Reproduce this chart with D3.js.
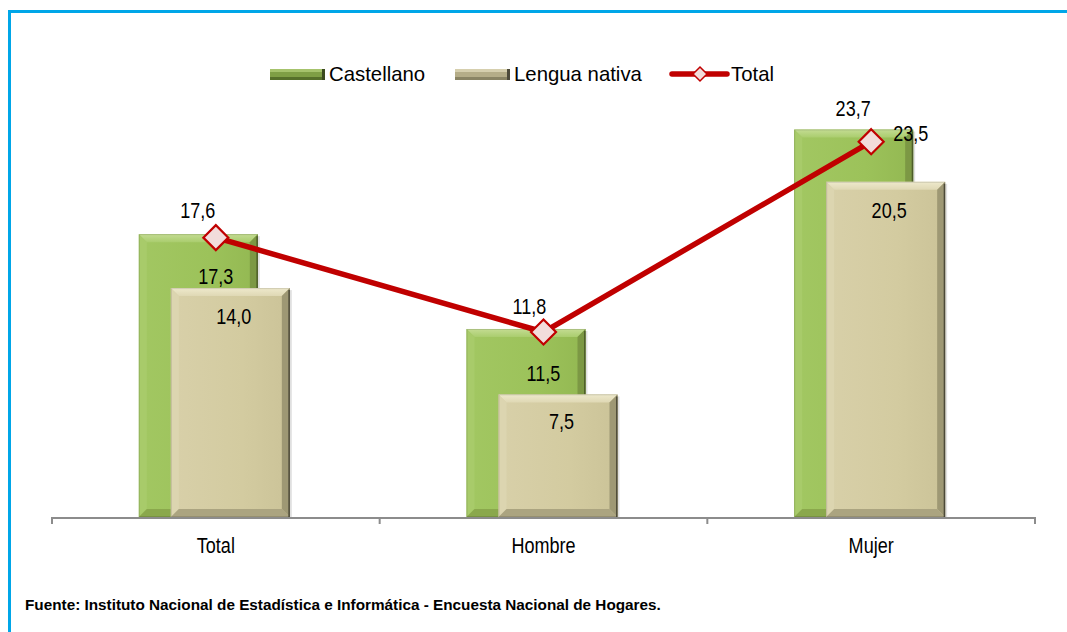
<!DOCTYPE html>
<html>
<head>
<meta charset="utf-8">
<script src="https://cdn.jsdelivr.net/npm/d3@7"></script>
<style>
  body { margin: 0; background: #fff; }
  svg text { font-family: "Liberation Sans", Arial, sans-serif; fill: #000; }
</style>
</head>
<body>
<div id="chart"></div>
<script>
// data
const categories = ["Total", "Hombre", "Mujer"];
const castellano = [17.3, 11.5, 23.7];
const lenguaNativa = [14.0, 7.5, 20.5];
const totalSerie = [17.6, 11.8, 23.5];
const seriesNames = ["Castellano", "Lengua nativa", "Total"];
const fuente = "Fuente: Instituto Nacional de Estadística e Informática - Encuesta Nacional de Hogares.";

// label placement (px offsets from the mark, set by hand)
const castLabelOff = [[0, 42], [0, 44], [-18, -21]];
const lengLabelOff = [[1, 28], [1, 27], [1, 28]];
const totLabelOff = [[-18, -27], [-14, -26], [22, -8]];

const width = 1067, height = 632;
const base = 517;
const narrow = 0.82; // the source font is a narrow face

const svg = d3.select("#chart").append("svg")
    .attr("width", width)
    .attr("height", height);

// frame (blue border, top and left)
svg.append("path")
    .attr("d", "M 9.5 632 L 9.5 11.5 L 1067 11.5")
    .attr("fill", "none")
    .attr("stroke", "#00A6E8")
    .attr("stroke-width", 3);

const x = d3.scaleBand().domain(categories).range([52, 1035]);
const y = d3.scaleLinear().domain([0, 30]).range([base, base - 16.35 * 30]);
const yLine = d3.scaleLinear().domain([0, 30]).range([524, 524 - 16.27 * 30]);

const barW = 119;
const cx = c => x(c) + x.bandwidth() / 2;

// gradients
const defs = svg.append("defs");
function grad(id, stops, vertical) {
    const g = defs.append("linearGradient").attr("id", id)
        .attr("x1", 0).attr("y1", 0)
        .attr("x2", vertical ? 0 : 1).attr("y2", vertical ? 1 : 0);
    stops.forEach(s => g.append("stop").attr("offset", s[0]).attr("stop-color", s[1]));
}
grad("gBody", [[0, "#a2c762"], [0.6, "#9cc25a"], [1, "#93b852"]], false);
grad("lBody", [[0, "#d8d0a9"], [0.6, "#d3cba0"], [1, "#cbc398"]], false);
grad("gTop", [[0, "#c4dc93"], [1, "#aacd6e"]], true);
grad("lTop", [[0, "#eee9cc"], [1, "#dfd8b4"]], true);

const styles = {
    green: { body: "url(#gBody)", top: "url(#gTop)", left: "#a8cb6a", right: "#7c9844", bottom: "#8aa84c", edge: "#55662e" },
    beige: { body: "url(#lBody)", top: "url(#lTop)", left: "#dcd5b0", right: "#9e9874", bottom: "#aba480", edge: "#55523f" }
};

// bevelled bar
function bevelBar(g, x0, y0, w, h, st) {
    const b = Math.min(8, h / 2);
    const bar = g.append("g");
    bar.append("rect").attr("x", x0 + 2).attr("y", y0 + 2).attr("width", w).attr("height", h - 2)
        .attr("fill", "#000").attr("opacity", 0.12);
    bar.append("rect").attr("x", x0).attr("y", y0).attr("width", w).attr("height", h).attr("fill", st.body);
    const x1 = x0 + w, y1 = y0 + h;
    const poly = (pts, fill) => bar.append("polygon").attr("points", pts.map(p => p.join(",")).join(" ")).attr("fill", fill);
    poly([[x0, y0], [x1, y0], [x1 - b, y0 + b], [x0 + b, y0 + b]], st.top);
    poly([[x0, y0], [x0 + b, y0 + b], [x0 + b, y1 - b], [x0, y1]], st.left);
    poly([[x1, y0], [x1, y1], [x1 - b, y1 - b], [x1 - b, y0 + b]], st.right);
    poly([[x0, y1], [x0 + b, y1 - b], [x1 - b, y1 - b], [x1, y1]], st.bottom);
    bar.append("line").attr("x1", x1 - 0.75).attr("x2", x1 - 0.75).attr("y1", y0 + 2).attr("y2", y1)
        .attr("stroke", st.edge).attr("stroke-width", 1.5);
    bar.append("rect").attr("x", x0 + 0.5).attr("y", y0 + 0.5).attr("width", w - 1).attr("height", h - 1)
        .attr("fill", "none").attr("stroke", "#000").attr("stroke-opacity", 0.12);
}

const bars = svg.append("g");
categories.forEach((c, i) => {
    bevelBar(bars, cx(c) - 77, y(castellano[i]), barW, base - y(castellano[i]), styles.green);
});
categories.forEach((c, i) => {
    bevelBar(bars, cx(c) - 45, y(lenguaNativa[i]), barW, base - y(lenguaNativa[i]), styles.beige);
});

// axis
const axis = svg.append("g").attr("transform", `translate(0,${base + 0.5})`)
    .call(d3.axisBottom(x).tickSize(0).tickPadding(20));
axis.select(".domain").attr("stroke", "#8c8c8c").attr("stroke-width", 2);
axis.selectAll("text").style("font-size", "22px").attr("fill", "#000")
    .attr("transform", `scale(${narrow},1)`);
const bounds = [52].concat(categories.map(c => x(c) + x.bandwidth()));
svg.append("g").selectAll("line").data(bounds).join("line")
    .attr("x1", d => d).attr("x2", d => d)
    .attr("y1", base).attr("y2", base + 7)
    .attr("stroke", "#8c8c8c").attr("stroke-width", 2);

// total line
const pts = categories.map((c, i) => [cx(c), yLine(totalSerie[i])]);
svg.append("path")
    .attr("d", d3.line()(pts))
    .attr("fill", "none")
    .attr("stroke", "#C00000")
    .attr("stroke-width", 5.5)
    .attr("stroke-linejoin", "round");
svg.append("g").selectAll("path").data(pts).join("path")
    .attr("transform", d => `translate(${d[0]},${d[1]})`)
    .attr("d", "M0,-12.5 L12.5,0 L0,12.5 L-12.5,0 Z")
    .attr("fill", "#F2DCDB")
    .attr("stroke", "#C00000")
    .attr("stroke-width", 2.2);

// data labels
const fmt = v => d3.format(".1f")(v).replace(".", ",");
const labels = svg.append("g").style("font-size", "22px").attr("text-anchor", "middle");
function label(px, py, txt, anchor) {
    labels.append("text")
        .attr("transform", `translate(${px},${py}) scale(${narrow},1)`)
        .attr("dy", "0.35em")
        .attr("text-anchor", anchor || "middle")
        .text(txt);
}
categories.forEach((c, i) => {
    label(cx(c) + castLabelOff[i][0], y(castellano[i]) + castLabelOff[i][1], fmt(castellano[i]));
    label(cx(c) + 17 + lengLabelOff[i][0], y(lenguaNativa[i]) + lengLabelOff[i][1], fmt(lenguaNativa[i]));
    label(pts[i][0] + totLabelOff[i][0], pts[i][1] + totLabelOff[i][1], fmt(totalSerie[i]), i === 2 ? "start" : "middle");
});

// legend
const legend = svg.append("g").attr("transform", "translate(0,74)");
const legX = [270, 455, 672];
function legSwatch(x0, st) {
    const g = legend.append("g");
    g.append("rect").attr("x", x0).attr("y", -5).attr("width", 55).attr("height", 11).attr("fill", st.body);
    g.append("rect").attr("x", x0).attr("y", -5).attr("width", 55).attr("height", 3).attr("fill", st.top);
    g.append("rect").attr("x", x0).attr("y", 3).attr("width", 55).attr("height", 3).attr("fill", st.right);
    g.append("rect").attr("x", x0 + 52).attr("y", -5).attr("width", 3).attr("height", 11).attr("fill", st.edge);
}
legSwatch(legX[0], { body: "#7f9f45", top: "#a6c36c", right: "#56702a", edge: "#3b4a1e" });
legSwatch(legX[1], { body: "#b5ad88", top: "#d6cfae", right: "#8a8464", edge: "#4d4a3a" });
legend.append("line").attr("x1", legX[2]).attr("x2", legX[2] + 55).attr("y1", 0).attr("y2", 0)
    .attr("stroke", "#C00000").attr("stroke-width", 5.5).attr("stroke-linecap", "round");
legend.append("path").attr("transform", `translate(${legX[2] + 28},0)`)
    .attr("d", "M0,-7 L7,0 L0,7 L-7,0 Z")
    .attr("fill", "#F2DCDB").attr("stroke", "#C00000").attr("stroke-width", 1.5);
legend.selectAll("text.lg").data(seriesNames).join("text")
    .attr("class", "lg")
    .attr("transform", (d, i) => `translate(${legX[i] + 59},0) scale(0.97,1)`)
    .attr("dy", "0.35em")
    .style("font-size", "21px")
    .text(d => d);

// source note
svg.append("text")
    .attr("x", 25).attr("y", 605).attr("dy", "0.35em")
    .style("font-size", "15.3px").style("font-weight", "bold")
    .text(fuente);
</script>
</body>
</html>
